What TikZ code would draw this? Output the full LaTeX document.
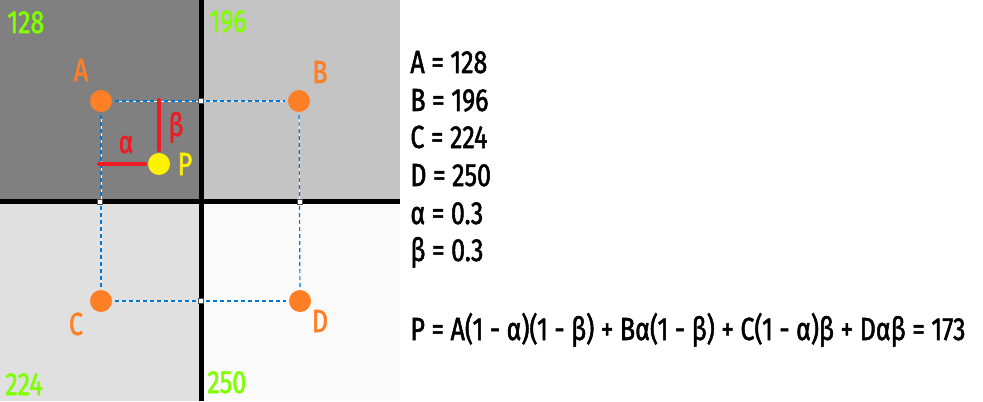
\documentclass[tikz,border=0pt]{standalone}
\usepackage{fontspec}
\setmainfont[FakeStretch=0.78, FakeBold=1.6]{Fira Sans}
\usetikzlibrary{calc}

\definecolor{dotorange}{RGB}{255,127,39}
\definecolor{dotyellow}{RGB}{255,242,0}
\definecolor{barred}{RGB}{237,28,36}
\definecolor{lime}{RGB}{128,255,0}
\definecolor{guideblue}{RGB}{0,120,215}
\definecolor{cellA}{RGB}{128,128,128}
\definecolor{cellB}{RGB}{196,196,196}
\definecolor{cellC}{RGB}{224,224,224}
\definecolor{cellD}{RGB}{250,250,250}

\tikzset{
  pixdot/.style={circle, fill=dotorange, inner sep=0pt, minimum size=11pt, outer sep=1.5pt},
  guide/.style={guideblue, line width=0.6pt, dash pattern=on 2pt off 1.5pt, preaction={draw=white, solid}},
  knot/.style={rectangle, draw=black!70, fill=white, line width=0.3pt, inner sep=0pt, minimum size=2.5pt},
  redbar/.style={barred, line width=2pt, line cap=round},
  lbl/.style={inner sep=0pt, anchor=base},
  cellnum/.style={inner sep=0pt, anchor=base west, text=lime},
}

\begin{document}
\begin{tikzpicture}[x=0.5pt, y=-0.5pt, font=\fontsize{16}{19}\selectfont]
\useasboundingbox (0,0) rectangle (983,401);
\fill[white] (0,0) rectangle (983,401);

% the four pixels
\fill[cellA] (0,0) rectangle (201,201);
\fill[cellB] (201,0) rectangle (400,201);
\fill[cellC] (0,201) rectangle (201,401);
\fill[cellD] (201,201) rectangle (400,401);
\draw[line width=2.5pt] (201,0) -- (201,401);
\draw[line width=2.5pt] (0,201.5) -- (400,201.5);

\node[cellnum] (nA) at (7,33) {128};
\node[cellnum] (nB) at (209,32) {196};
\node[cellnum] (nC) at (5,395) {224};
\node[cellnum] (nD) at (207,393) {250};

% sample points
\node[pixdot] (A) at (101,101) {};
\node[pixdot] (B) at (299,101) {};
\node[pixdot] (C) at (101,301) {};
\node[pixdot] (D) at (300,301) {};
\node[pixdot, fill=dotyellow] (P) at (159,164) {};

\draw[guide] (A) -- (B);
\draw[guide] (A) -- (C);
\draw[guide] (B) -- (D);
\draw[guide] (C) -- (D);

\node[knot] (kAB) at (201,101) {};
\node[knot] (kAC) at (100,202) {};
\node[knot] (kBD) at (300,202) {};
\node[knot] (kCD) at (201,301) {};

% alpha and beta
\coordinate (Pa) at (99,164);
\coordinate (Pb) at (159,100);
\draw[redbar] (Pa) -- (P);
\draw[redbar] (Pb) -- (P);

\node[lbl, text=dotorange] (lA) at (81,81) {A};
\node[lbl, text=dotorange] (lB) at (320,83) {B};
\node[lbl, text=dotorange] (lC) at (76,335) {C};
\node[lbl, text=dotorange] (lD) at (320,332) {D};
\node[lbl, text=barred] (la) at (126,153) {α};
\node[lbl, text=barred] (lb) at (176,136) {β};
\node[lbl, text=dotyellow] (lP) at (185,175) {P};

% values
\foreach \t/\y [count=\i] in {A = 128/73, B = 196/111, C = 224/148, D = 250/186, α = 0.3/224, β = 0.3/261}
  \node[inner sep=0pt, anchor=base west] (val\i) at (410,\y) {\t};
\node[inner sep=0pt, anchor=base west] (eq) at (410,340) {P = A(1 - α)(1 - β) + Bα(1 - β) + C(1 - α)β + Dαβ = 173};
\end{tikzpicture}
\end{document}
